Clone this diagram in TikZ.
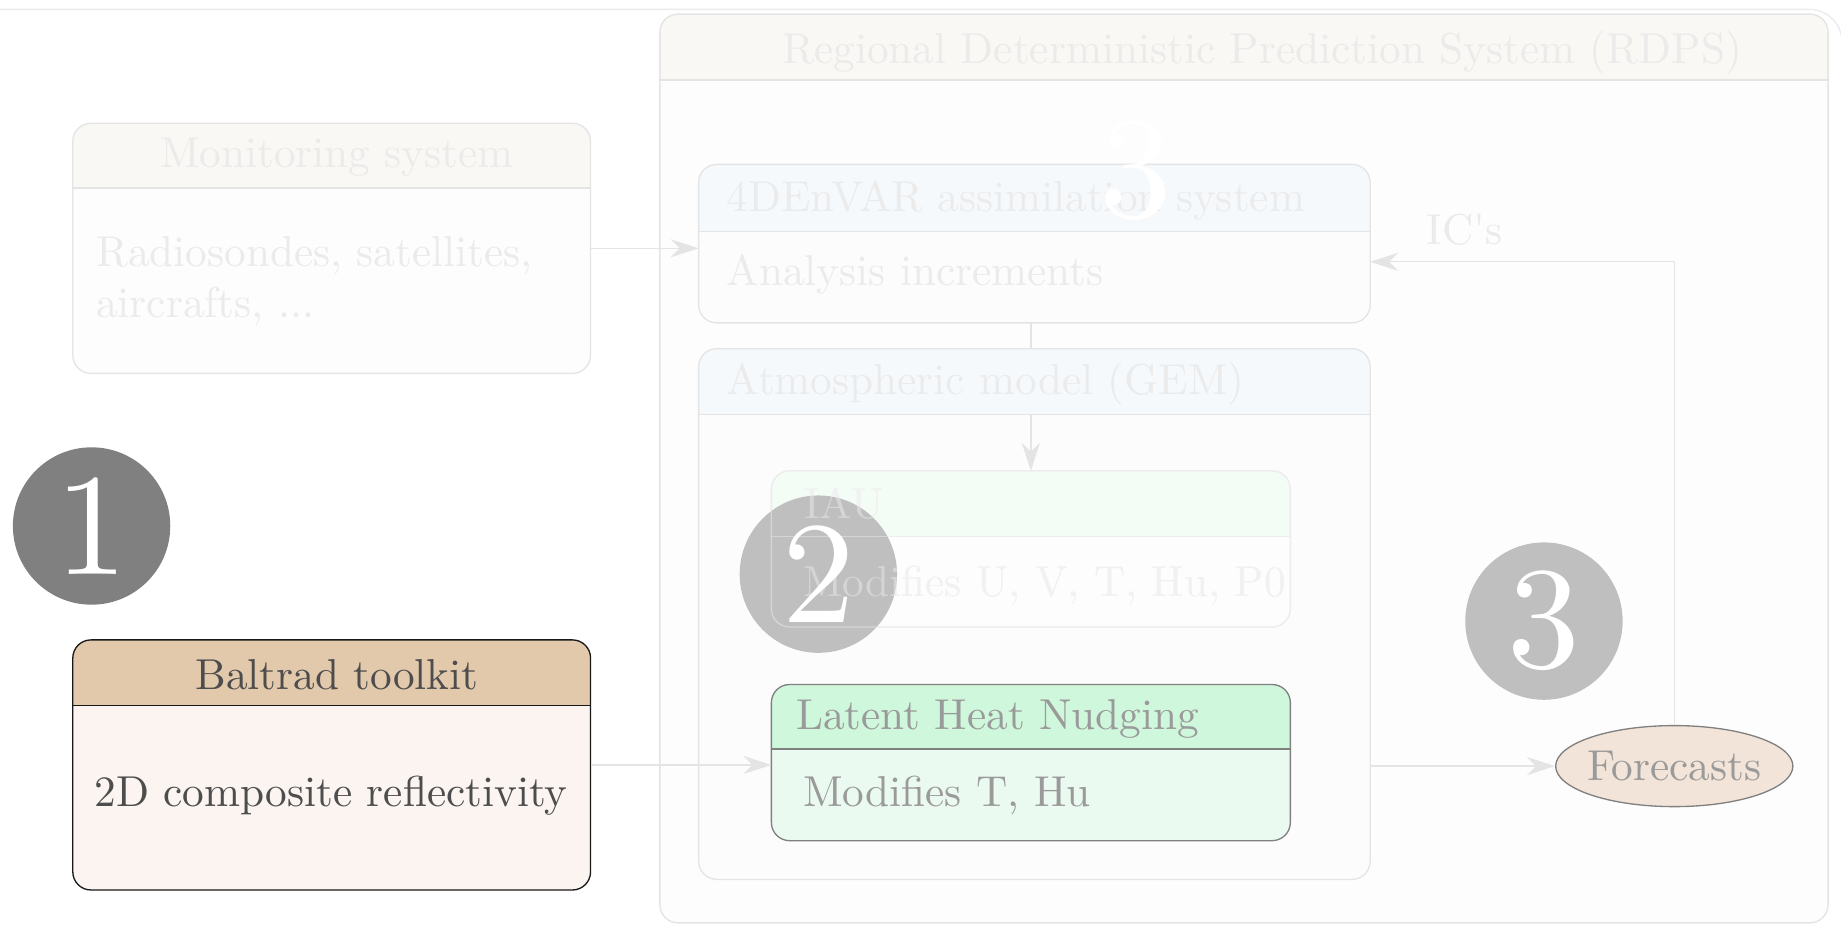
\documentclass[tikz,border=0pt]{standalone}
\usetikzlibrary{arrows.meta,fit,shapes.geometric}
\definecolor{fline}{HTML}{E4E4E4}
\definecolor{ftext}{HTML}{EBEBEB}
\definecolor{rdpshead}{HTML}{F9F8F4}
\definecolor{rdpsbody}{HTML}{FDFDFD}
\definecolor{bluehead}{HTML}{F6F9FC}
\definecolor{bluebody}{HTML}{FCFCFD}
\definecolor{iauhead}{HTML}{F3FCF5}
\definecolor{iaubody}{HTML}{FDFDFD}
\definecolor{lhnhead}{HTML}{CFF7DB}
\definecolor{lhnbody}{HTML}{EBFAF0}
\definecolor{midgray}{HTML}{808080}
\definecolor{lhntext}{HTML}{9A9A9A}
\definecolor{balthead}{HTML}{E3C9AB}
\definecolor{baltbody}{HTML}{FBF4F1}
\definecolor{balttext}{HTML}{4D4D4D}
\definecolor{fcfill}{HTML}{F2E4D8}
\definecolor{darkcirc}{HTML}{808080}
\definecolor{lightcirc}{HTML}{BFBFBF}
\definecolor{frameline}{HTML}{EBEBEB}
\newcommand\boxrad{11pt}
% #1 name, #2 x1, #3 y1, #4 x2, #5 y2, #6 y of divider, #7 header fill, #8 body fill, #9 stroke style
\newcommand\umlbox[9]{%
  \node[fit={(#2,#3) (#4,#5)}, inner sep=0pt, outer sep=0pt, fill=#8, rounded corners=\boxrad] (#1) {};
  \begin{scope}
    \clip[rounded corners=\boxrad] (#2,#3) rectangle (#4,#5);
    \fill[#7] (#2,#3) rectangle (#4,#6);
  \end{scope}
  \draw[#9] (#2,#6) -- (#4,#6);
  \draw[#9, rounded corners=\boxrad] (#2,#3) rectangle (#4,#5);
}
\tikzset{
  txt/.style={inner sep=0pt, outer sep=0pt, font=\fontsize{10}{12}\selectfont, scale=2.62, transform shape},
  ftxt/.style={txt, text=ftext},
  num/.style={inner sep=0pt, outer sep=0pt, font=\fontsize{10}{12}\selectfont, scale=8.8, transform shape, text=white},
  numcirc/.style={circle, minimum size=3.35cm, inner sep=0pt},
  fstroke/.style={draw=fline, line width=0.8pt},
  fadearrow/.style={draw=fline, line width=0.8pt, -{Stealth[length=17pt,width=11pt]}},
}
\begin{document}
\begin{tikzpicture}[x=0.025cm, y=-0.025cm]
\useasboundingbox (0,0) rectangle (1568,796);
\fill[white] (0,0) rectangle (1568,796);
% outer faint frame
\draw[frameline, line width=0.8pt, rounded corners=20pt] (-40,8) rectangle (1569,820);

% RDPS container
\umlbox{rdps}{562}{12}{1557}{786}{68}{rdpshead}{rdpsbody}{fstroke}
\node[ftxt, anchor=base] (rdpst) at (1075,54) {Regional Deterministic Prediction System (RDPS)};

% Monitoring system
\umlbox{mon}{62}{105}{503}{318}{160}{rdpshead}{rdpsbody}{fstroke}
\node[ftxt, anchor=base] (mont) at (287,143) {Monitoring system};
\node[ftxt, anchor=base west] (mon1) at (82,227) {Radiosondes, satellites,};
\node[ftxt, anchor=base west] (mon2) at (82,270) {aircrafts, ...};

% 4DEnVAR
\umlbox{envar}{595}{140}{1167}{275}{197}{bluehead}{bluebody}{fstroke}
\node[ftxt, anchor=base west] (envart) at (619,180) {4DEnVAR assimilation system};
\node[ftxt, anchor=base west] (envarb) at (619,243) {Analysis increments};

% GEM
\umlbox{gem}{595}{297}{1167}{749}{353}{bluehead}{bluebody}{fstroke}
\node[ftxt, anchor=base west] (gemt) at (619,336) {Atmospheric model (GEM)};
\coordinate (gemdiv) at (878,353);

% IAU
\umlbox{iau}{657}{401}{1099}{534}{457}{iauhead}{iaubody}{fstroke}
\node[ftxt, anchor=base west] (iaut) at (685,442) {IAU};
\node[ftxt, anchor=base west] (iaub) at (684,508) {Modifies U, V, T, Hu, P0};

% circle 2 under a faint veil of the IAU box
\node[numcirc, fill=lightcirc] (c2) at (697,489) {};
\node[num] (c2n) at (c2.center) {2};
\begin{scope}[opacity=0.35]
  \draw[white, line width=0.8pt] (657,457) -- (1099,457);
  \draw[white, line width=0.8pt, rounded corners=\boxrad] (657,401) rectangle (1099,534);
  \node[txt, text=white, anchor=base west] (iautv) at (685,442) {IAU};
  \node[txt, text=white, anchor=base west] (iaubv) at (684,508) {Modifies U, V, T, Hu, P0};
\end{scope}

% Latent Heat Nudging
\umlbox{lhn}{657}{583}{1099}{716}{638}{lhnhead}{lhnbody}{draw=midgray, line width=0.8pt}
\node[txt, text=lhntext, anchor=base west] (lhnt) at (678,621) {Latent Heat Nudging};
\node[txt, text=lhntext, anchor=base west] (lhnb) at (684,687) {Modifies T, Hu};

% Baltrad toolkit
\umlbox{balt}{62}{545}{503}{758}{601}{balthead}{baltbody}{draw=black!90, line width=0.8pt}
\node[txt, text=balttext, anchor=base] (baltt) at (287,587) {Baltrad toolkit};
\node[txt, text=balttext, anchor=base] (baltb) at (282,687) {2D composite reflectivity};

% Forecasts
\node[ellipse, draw=midgray, line width=0.8pt, fill=fcfill, minimum width=5.05cm, minimum height=1.725cm, inner sep=0pt] (fc) at (1426,652.5) {};
\node[txt, text=lhntext] (fct) at (fc.center) {Forecasts};

% numbered circles
\node[numcirc, fill=darkcirc] (c1) at (78,448) {};
\node[num] (c1n) at (c1.center) {1};
\node[numcirc, fill=lightcirc] (c3) at (1315,529) {};
\node[num] (c3n) at (c3.center) {3};

% connectors
\draw[fadearrow] (mon.east) -- (mon.east -| envar.west);
\draw[fstroke] (envar.south -| gemdiv) -- (gem.north -| gemdiv);
\draw[fadearrow] (gemdiv) -- (iau.north -| gemdiv);
\draw[fadearrow] (balt.east) -- (balt.east -| lhn.west);
\draw[fadearrow] (gem.east |- fc.west) -- (fc.west);
\draw[fadearrow] (fc.north) |- ([yshift=-11pt]envar.east);
\node[ftxt, anchor=base west] (ics) at (1215,208) {IC\textquotesingle s};

% white number over the assimilation box
\node[num] (w3) at (967,145) {3};
\end{tikzpicture}
\end{document}
